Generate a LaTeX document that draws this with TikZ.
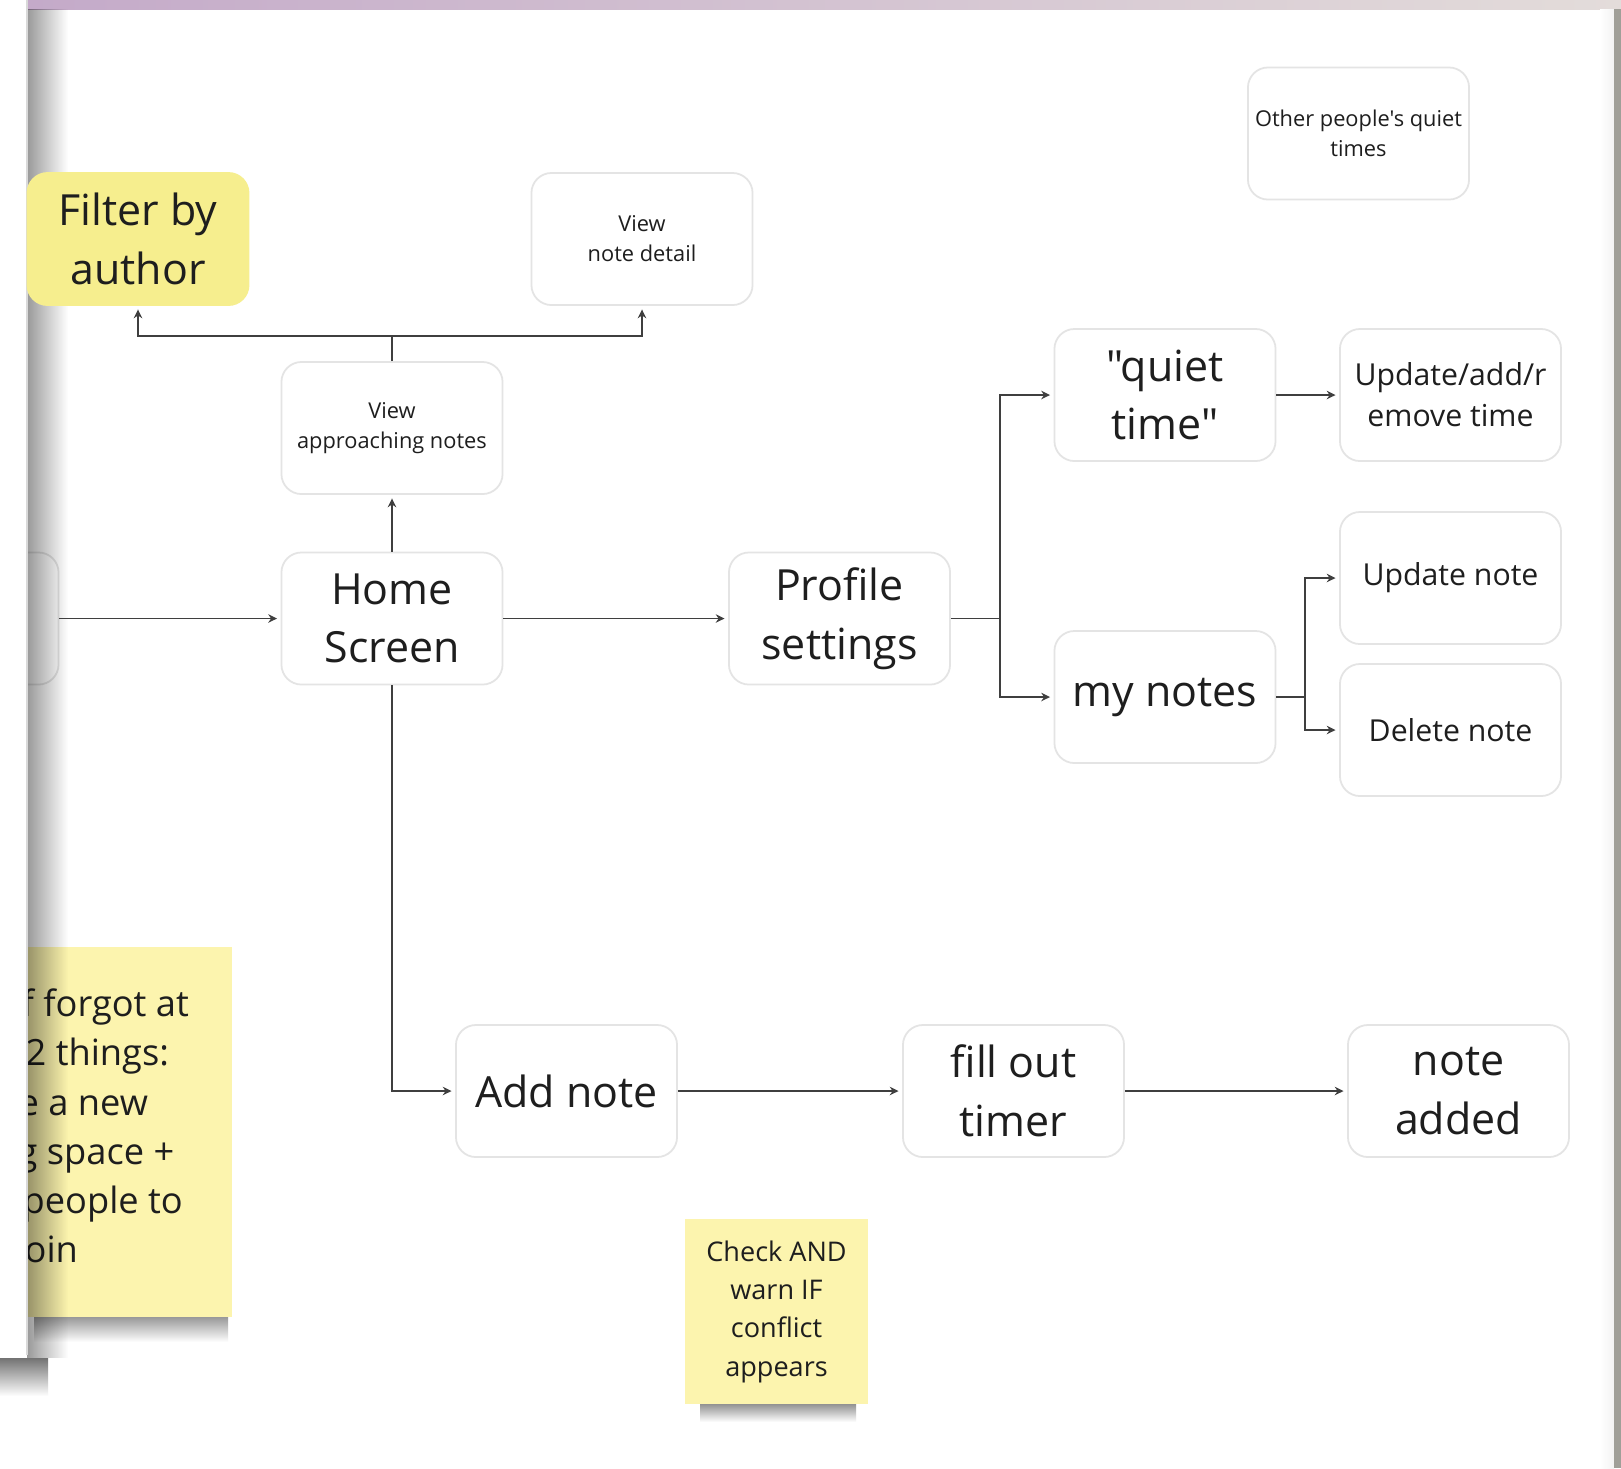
\documentclass[tikz,border=0pt]{standalone}
\usepackage{fontspec}
\setmainfont{Open Sans}[Ligatures=TeXOff]
\usetikzlibrary{arrows.meta,fadings}
\tikzfading[name=shadeoff right,left color=transparent!0,right color=transparent!100]
\definecolor{ink}{HTML}{1E1E1E}
\definecolor{wire}{HTML}{3F3F3F}
\definecolor{boxline}{HTML}{E4E4E4}
\definecolor{memo}{HTML}{FCF4AE}
\definecolor{hilite}{HTML}{F6EE8E}
\definecolor{barleft}{HTML}{C4AAC9}
\definecolor{barright}{HTML}{E3DCDA}
\definecolor{edge}{HTML}{A09F98}
\begin{document}
\begin{tikzpicture}[x=0.01cm,y=-0.01cm,shorten >=1pt,>={Stealth[length=2.5pt,width=2.4pt]}]
    \tikzstyle{box}=[rectangle,rounded corners=5.7pt,draw=boxline,line width=0.5pt,fill=white,minimum width=2.21cm,minimum height=1.32cm,inner sep=0pt,align=center,text=ink]
    \tikzstyle{tbig}=[font=\fontsize{12.2}{16.7}\selectfont]
    \tikzstyle{tmid}=[font=\fontsize{8.6}{11.6}\selectfont]
    \tikzstyle{tsmall}=[font=\fontsize{6.2}{8.5}\selectfont]
    \tikzstyle{sticky}=[rectangle,fill=memo,inner sep=0pt,text=ink]
    \tikzstyle{memoline}=[anchor=base west,inner sep=0pt,text=ink,font=\fontsize{10.3}{14}\selectfont]
    \tikzstyle{link}=[->,draw=wire,line width=0.5pt]
    \tikzstyle{stub}=[draw=wire,line width=0.5pt,shorten >=0pt]

    \useasboundingbox (0,0) rectangle (1621,1468);
    \fill[white] (0,0) rectangle (1621,1468);
    % board edges
    \shade[left color=barleft,right color=barright] (27,0) rectangle (1621,9);
    \shade[left color=white,right color=black!5] (1600,9) rectangle (1614,1468);
    \fill[edge] (1614,9) rectangle (1621,1468);

    \begin{scope}
    \clip (0,0) rectangle (1621,1468);
    \node[box] (prev) at (-52,618.5) {};
    % sticky cut by the frame
    \shade[top color=black!40,bottom color=white] (34,1317) rectangle (228,1342);
    \node[sticky,minimum width=2.04cm,minimum height=3.70cm] (memo) at (130,1132) {};
    \foreach \i/\x/\y/\t in {1/21/1016/f forgot at,2/25/1065/2 things:,3/18/1115/e a new,4/17/1164/g space +,5/22/1213/people to,6/24/1262/oin}
      \node[memoline] (memo-\i) at (\x,\y) {\t};
    \end{scope}

    % frame and its shadow
    \fill[black,opacity=.4,path fading=shadeoff right] (27,9) rectangle (68,1358);
    \shade[top color=black!55,bottom color=white] (0,1358) rectangle (48,1396);
    \fill[white] (0,0) rectangle (27,1358);
    \draw[black!15] (27,0) -- (27,1358);

    \node[box,tbig,fill=hilite,draw=hilite] (filter) at (138,239) {Filter by\\author};
    \node[box,tsmall] (detail) at (642,239) {View\\note detail};
    \node[box,tsmall] (others) at (1358.5,133.5) {Other people's quiet\\times};
    \node[box,tsmall] (approach) at (392,428) {View\\approaching notes};
    \node[box,tbig] (home) at (392,618.5) {Home\\Screen};
    \node[box,tbig] (profile) at (839.5,618.5) {Profile\\settings};
    \node[box,tbig] (quiet) at (1165,395) {"quiet\\time"};
    \node[box,tmid] (edit) at (1450.5,395) {Update/add/r\\emove time};
    \node[box,tmid] (upnote) at (1450.5,578) {Update note};
    \node[box,tbig] (mine) at (1165,697) {my notes};
    \node[box,tmid] (delnote) at (1450.5,730) {Delete note};
    \node[box,tbig] (add) at (566.5,1091) {Add note};
    \node[box,tbig] (timer) at (1013.5,1091) {fill out\\timer};
    \node[box,tbig] (added) at (1458.5,1091) {note\\added};

    \shade[top color=black!45,bottom color=white] (700,1403) rectangle (856,1422);
    \node[sticky,minimum width=1.83cm,minimum height=1.84cm,align=center,font=\fontsize{7.7}{10.9}\selectfont] (check) at (776.5,1311.5) {Check AND\\warn IF\\conflict\\appears};

    \coordinate (topfork) at (392,336);
    \coordinate (setfork) at (1000,618.5);
    \coordinate (notefork) at (1305,697);

    \foreach \a/\b in {prev/home,home/profile,home/approach,quiet/edit,add/timer,timer/added}
      \path[link] (\a) edge (\b);

    \draw[stub] (approach) -- (topfork);
    \draw[link] (topfork) -| (filter);
    \draw[link] (topfork) -| (detail);
    \draw[stub] (profile) -- (setfork);
    \draw[link] (setfork) |- (quiet);
    \draw[link] (setfork) |- (mine);
    \draw[stub] (mine) -- (notefork);
    \draw[link] (notefork) |- (upnote);
    \draw[link] (notefork) |- (delnote);
    \draw[link] (home) |- (add);
\end{tikzpicture}
\end{document}
